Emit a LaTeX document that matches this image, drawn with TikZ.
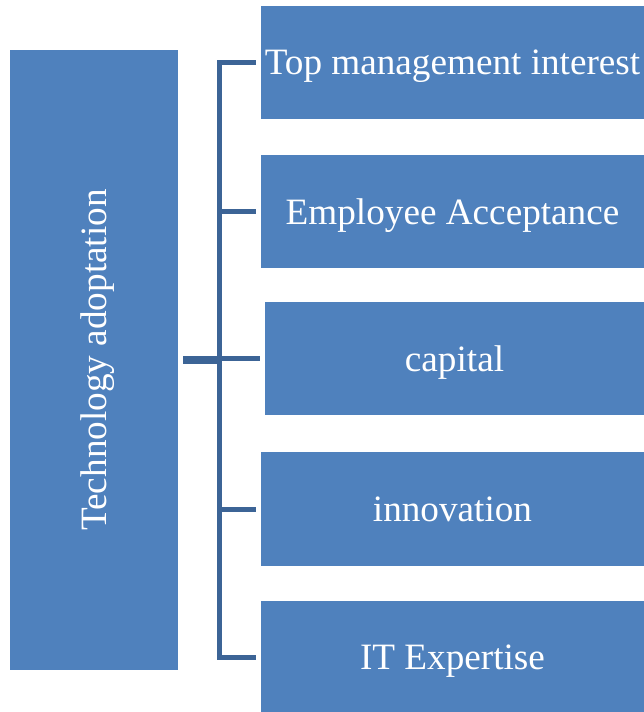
\documentclass[tikz,border=0pt]{standalone}
\usepackage{fontspec}
\setmainfont{Liberation Serif}
\definecolor{boxblue}{RGB}{79,129,189}
\definecolor{linkblue}{RGB}{60,100,150}
\begin{document}
\begin{tikzpicture}[x=1pt, y=-1pt]
  \tikzstyle{factor}=[fill=boxblue, text=white, minimum width=383pt, minimum height=113pt, inner sep=0pt, text depth=0pt, font=\fontsize{37.2}{44}\selectfont]
  \tikzstyle{link}=[draw=linkblue, line width=5pt, line join=miter]

  \useasboundingbox (0, 0) rectangle (644, 712);

  \node[factor, minimum width=168pt, minimum height=620pt] (root) at (94, 360) {};
  \node[rotate=90, text=white, text depth=0pt, font=\fontsize{37.2}{44}\selectfont] (rootlabel) at (root.center) {Technology adoptation};

  \node[factor] (top) at (452.5, 62.5) {Top management interest};
  \node[factor] (emp) at (452.5, 211.5) {Employee Acceptance};
  \node[factor, minimum width=379pt] (cap) at (454.5, 358.5) {capital};
  \node[factor, minimum height=114pt] (inno) at (452.5, 509) {innovation};
  \node[factor] (itx) at (452.5, 657) {IT Expertise};

  \coordinate (spine) at (219.5, 0);

  \draw[link] ([xshift=-5pt]top.west) -| (spine |- itx.west) -- ([xshift=-5pt]itx.west);
  \foreach \n in {emp, cap, inno} {
    \draw[link] (spine |- \n.west) -- ([xshift=-5pt]\n.west);
  }
  \draw[link, line width=8pt] ([xshift=5pt]root.east) -- (spine |- root.east);
\end{tikzpicture}
\end{document}
